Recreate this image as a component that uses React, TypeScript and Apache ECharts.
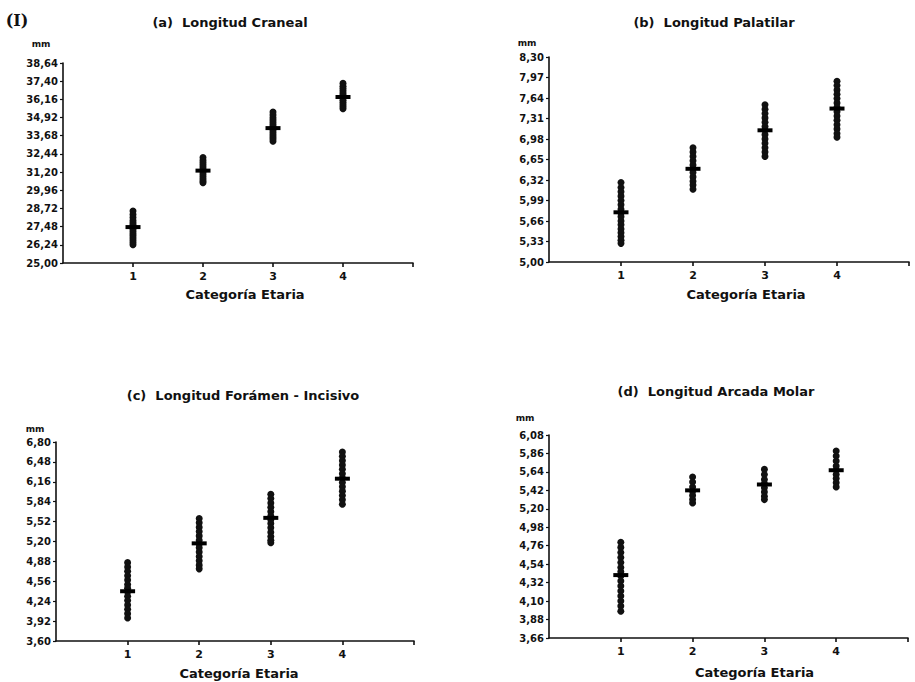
import React, { useEffect, useRef } from "react";
import * as echarts from "echarts";

// ---- Tick values (y axes) ----
const yTicksA = [25.0, 26.24, 27.48, 28.72, 29.96, 31.2, 32.44, 33.68, 34.92, 36.16, 37.4, 38.64];
const yTicksB = [5.0, 5.33, 5.66, 5.99, 6.32, 6.65, 6.98, 7.31, 7.64, 7.97, 8.3];
const yTicksC = [3.6, 3.92, 4.24, 4.56, 4.88, 5.2, 5.52, 5.84, 6.16, 6.48, 6.8];
const yTicksD = [3.66, 3.88, 4.1, 4.32, 4.54, 4.76, 4.98, 5.2, 5.42, 5.64, 5.86, 6.08];

// ---- Categories ----
const categories = [1, 2, 3, 4];

// ---- (a) Longitud Craneal ----
const cranealG1 = [28.55, 28.3, 28.1, 27.9, 27.75, 27.6, 27.5, 27.4, 27.3, 27.15, 27.0, 26.85, 26.7, 26.55, 26.4, 26.25];
const cranealG2 = [32.2, 32.0, 31.85, 31.7, 31.55, 31.4, 31.3, 31.2, 31.05, 30.9, 30.75, 30.6, 30.48];
const cranealG3 = [35.3, 35.1, 34.9, 34.75, 34.6, 34.45, 34.3, 34.2, 34.05, 33.9, 33.75, 33.6, 33.45, 33.3];
const cranealG4 = [37.25, 37.05, 36.9, 36.75, 36.6, 36.45, 36.35, 36.25, 36.1, 35.95, 35.8, 35.65, 35.52];
const cranealMeans = [27.45, 31.3, 34.2, 36.32];

// ---- (b) Longitud Palatilar ----
const palatilarG1 = [6.28, 6.2, 6.13, 6.06, 5.99, 5.92, 5.85, 5.79, 5.73, 5.66, 5.6, 5.53, 5.47, 5.41, 5.35, 5.3];
const palatilarG2 = [6.84, 6.77, 6.7, 6.63, 6.56, 6.5, 6.44, 6.37, 6.3, 6.24, 6.17];
const palatilarG3 = [7.53, 7.46, 7.39, 7.32, 7.25, 7.18, 7.12, 7.05, 6.98, 6.91, 6.84, 6.77, 6.7];
const palatilarG4 = [7.91, 7.84, 7.77, 7.7, 7.63, 7.56, 7.49, 7.42, 7.35, 7.28, 7.21, 7.14, 7.07, 7.01];
const palatilarMeans = [5.8, 6.5, 7.12, 7.47];

// ---- (c) Longitud Forámen - Incisivo ----
const foramenG1 = [4.86, 4.79, 4.72, 4.65, 4.58, 4.51, 4.45, 4.39, 4.32, 4.25, 4.18, 4.11, 4.04, 3.97];
const foramenG2 = [5.57, 5.5, 5.43, 5.36, 5.29, 5.22, 5.16, 5.1, 5.03, 4.96, 4.89, 4.82, 4.76];
const foramenG3 = [5.96, 5.89, 5.82, 5.75, 5.68, 5.61, 5.55, 5.49, 5.42, 5.35, 5.28, 5.22, 5.18];
const foramenG4 = [6.64, 6.57, 6.5, 6.43, 6.36, 6.29, 6.22, 6.15, 6.08, 6.01, 5.94, 5.87, 5.8];
const foramenMeans = [4.4, 5.17, 5.58, 6.21];

// ---- (d) Longitud Arcada Molar ----
const molarG1 = [4.8, 4.74, 4.68, 4.62, 4.56, 4.5, 4.45, 4.4, 4.34, 4.28, 4.22, 4.16, 4.1, 4.04, 3.98];
const molarG2 = [5.58, 5.52, 5.46, 5.41, 5.36, 5.31, 5.27];
const molarG3 = [5.67, 5.61, 5.55, 5.5, 5.45, 5.4, 5.35, 5.31];
const molarG4 = [5.89, 5.83, 5.77, 5.71, 5.66, 5.61, 5.56, 5.51, 5.46];
const molarMeans = [4.41, 5.42, 5.49, 5.66];

const titles = [
  "(a)  Longitud Craneal",
  "(b)  Longitud Palatilar",
  "(c)  Longitud Forámen - Incisivo",
  "(d)  Longitud Arcada Molar",
];
const xName = "Categoría Etaria";
const unit = "mm";

const INK = "#111111";
const FONT = "DejaVu Sans";

const panels = [
  { groups: [cranealG1, cranealG2, cranealG3, cranealG4], means: cranealMeans, ticks: yTicksA,
    grid: { left: 63, top: 63, width: 350, height: 200 }, namePad: 14, nameGap: 25,
    title: { x: 230, y: 22 }, mm: { x: 41, y: 44 } },
  { groups: [palatilarG1, palatilarG2, palatilarG3, palatilarG4], means: palatilarMeans, ticks: yTicksB,
    grid: { left: 549, top: 57, width: 360, height: 205 }, namePad: 34, nameGap: 26,
    title: { x: 714, y: 22 }, mm: { x: 527, y: 43 } },
  { groups: [foramenG1, foramenG2, foramenG3, foramenG4], means: foramenMeans, ticks: yTicksC,
    grid: { left: 56, top: 442, width: 358, height: 199 }, namePad: 8, nameGap: 26,
    title: { x: 243, y: 395 }, mm: { x: 35, y: 429 } },
  { groups: [molarG1, molarG2, molarG3, molarG4], means: molarMeans, ticks: yTicksD,
    grid: { left: 549, top: 435, width: 359, height: 203 }, namePad: 52, nameGap: 28,
    title: { x: 716, y: 391 }, mm: { x: 525, y: 418 } },
];

const fmt = (v: number) => v.toFixed(2).replace(".", ",");

export default function App() {
  const ref = useRef<HTMLDivElement>(null);
  useEffect(() => {
    if (!ref.current) return;
    const chart = echarts.init(ref.current, null, { renderer: "svg" });
    const grids: any[] = [];
    const xAxes: any[] = [];
    const yAxes: any[] = [];
    const series: any[] = [];
    const graphic: any[] = [
      {
        type: "text", x: 17, y: 20,
        style: { text: "(I)", font: "bold 16px 'DejaVu Serif'", fill: INK, align: "center", verticalAlign: "middle" },
      },
    ];
    panels.forEach((p, i) => {
      grids.push({ ...p.grid });
      xAxes.push({
        type: "value", gridIndex: i, min: 0, max: 5,
        name: xName, nameLocation: "middle", nameGap: p.nameGap,
        nameTextStyle: { fontFamily: FONT, fontWeight: "bold", fontSize: 13, color: INK, padding: [0, 0, 0, p.namePad] },
        axisLine: { show: true, onZero: false, lineStyle: { color: INK, width: 1.6 } },
        axisTick: { show: true, length: 4, customValues: [1, 2, 3, 4, 5], lineStyle: { color: INK, width: 1.6 } },
        axisLabel: { customValues: categories, margin: 8, fontFamily: FONT, fontWeight: "bold", fontSize: 11, color: INK,
          formatter: (v: number) => String(v) },
        splitLine: { show: false },
      });
      yAxes.push({
        type: "value", gridIndex: i, min: p.ticks[0], max: p.ticks[p.ticks.length - 1],
        axisLine: { show: true, onZero: false, lineStyle: { color: INK, width: 1.6 } },
        axisTick: { show: true, length: 3, customValues: p.ticks, lineStyle: { color: INK, width: 1.2 } },
        axisLabel: { customValues: p.ticks, margin: 5, fontFamily: FONT, fontWeight: "bold", fontSize: 10, color: INK,
          formatter: (v: number) => fmt(v) },
        splitLine: { show: false },
      });
      const pts: number[][] = [];
      p.groups.forEach((g, gi) => g.forEach((v) => pts.push([categories[gi], v])));
      series.push({
        type: "scatter", xAxisIndex: i, yAxisIndex: i, data: pts,
        symbol: "circle", symbolSize: 7, itemStyle: { color: INK, opacity: 1 }, silent: true,
      });
      series.push({
        type: "scatter", xAxisIndex: i, yAxisIndex: i,
        data: p.means.map((m, gi) => [categories[gi], m]),
        symbol: "rect", symbolSize: [15, 4], itemStyle: { color: "#000", opacity: 1 }, silent: true, z: 3,
      });
      graphic.push({
        type: "text", x: p.title.x, y: p.title.y,
        style: { text: titles[i], font: `bold 13px '${FONT}'`, fill: INK, align: "center", verticalAlign: "middle" },
      });
      graphic.push({
        type: "text", x: p.mm.x, y: p.mm.y,
        style: { text: unit, font: `bold 9px '${FONT}'`, fill: INK, align: "center", verticalAlign: "middle" },
      });
    });
    chart.setOption({
      animation: false,
      backgroundColor: "#ffffff",
      grid: grids,
      xAxis: xAxes,
      yAxis: yAxes,
      series,
      graphic,
    });
    return () => chart.dispose();
  }, []);
  return (
    <div
      ref={ref}
      style={{ position: "absolute", left: 0, top: 0, width: 915, height: 682, background: "#fff" }}
    />
  );
}
